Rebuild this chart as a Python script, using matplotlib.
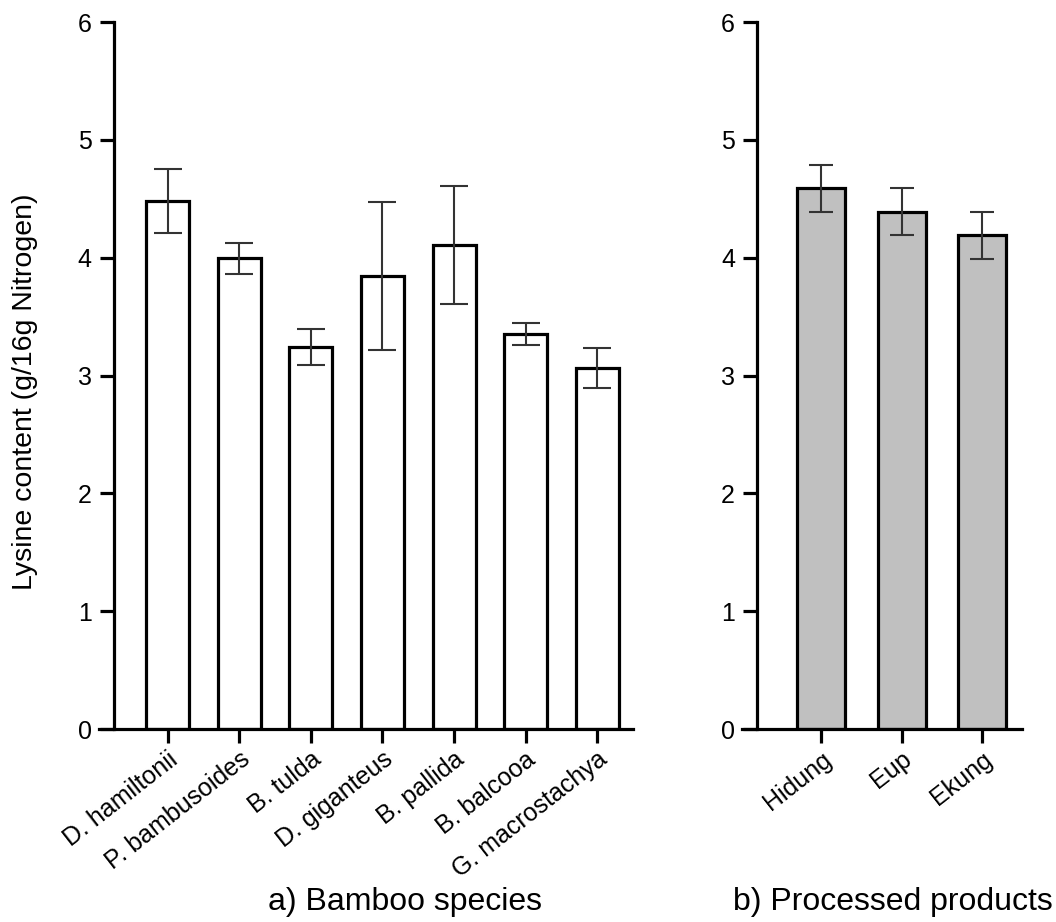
import numpy as np
import matplotlib
matplotlib.use('Agg')
import matplotlib.pyplot as plt

plt.rcParams['font.family'] = ['Liberation Sans', 'DejaVu Sans']

# Bamboo species
species = ['D. hamiltonii', 'P. bambusoides', 'B. tulda', 'D. giganteus',
           'B. pallida', 'B. balcooa', 'G. macrostachya']
species_lys = [4.48, 3.995, 3.24, 3.845, 4.105, 3.35, 3.06]
species_err = [0.27, 0.13, 0.155, 0.63, 0.50, 0.095, 0.17]

# Processed products
products = ['Hidung', 'Eup', 'Ekung']
products_lys = [4.59, 4.39, 4.19]
products_err = [0.20, 0.20, 0.20]

fig = plt.figure(figsize=(10.56, 9.22), dpi=100)
ax1 = fig.add_axes([99 / 1056, 193 / 922, 534 / 1056, 707 / 922])
ax2 = fig.add_axes([742 / 1056, 193 / 922, 280 / 1056, 707 / 922])


def draw_panel(ax, names, vals, errs, color, xlim, spine_x, capsize):
    x = np.arange(len(names))
    ax.bar(x, vals, width=0.6, color=color, edgecolor='black', linewidth=2.3, zorder=2)
    ax.errorbar(x, vals, yerr=errs, fmt='none', ecolor='#333333', elinewidth=1.5,
                capsize=capsize, capthick=1.5, zorder=3)
    ax.set_xlim(*xlim)
    ax.set_ylim(0, 6)
    ax.set_yticks(range(7))
    ax.set_xticks(x)
    ax.set_xticklabels(names, rotation=38, ha='right', rotation_mode='anchor', fontsize=18)
    ax.spines['top'].set_visible(False)
    ax.spines['right'].set_visible(False)
    ax.spines['left'].set_position(('data', spine_x))
    for s in ('left', 'bottom'):
        ax.spines[s].set_linewidth(2.3)
    ax.tick_params(axis='both', width=2.3, length=10)
    ax.tick_params(axis='y', labelsize=18, pad=6)
    ax.tick_params(axis='x', pad=3)


draw_panel(ax1, species, species_lys, species_err, 'white', (-0.96, 6.5), -0.75, 10)
draw_panel(ax2, products, products_lys, products_err, '#c0c0c0', (-0.99, 2.5), -0.8, 8.6)

fig.text(25 / 1056, 1 - 392 / 922, 'Lysine content (g/16g Nitrogen)', rotation=90,
         ha='center', va='center', fontsize=20.5)
fig.text(405 / 1056, 1 - 902 / 922, 'a) Bamboo species', ha='center', va='center', fontsize=23)
fig.text(893 / 1056, 1 - 902 / 922, 'b) Processed products', ha='center', va='center',
         fontsize=23)

fig.savefig('out.png', dpi=100)
